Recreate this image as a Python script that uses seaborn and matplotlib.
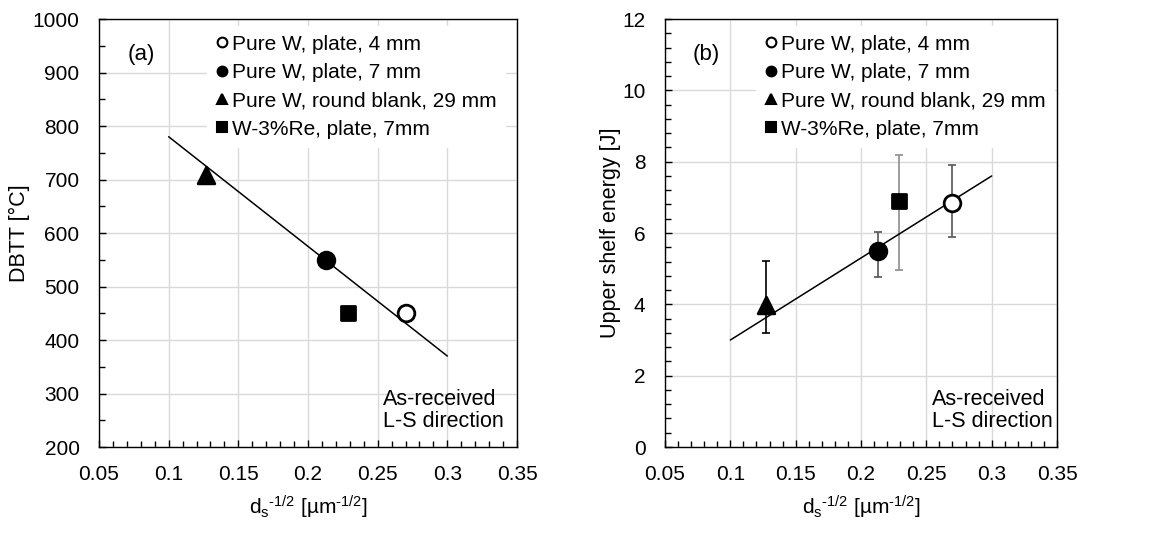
import matplotlib
matplotlib.use("Agg")
import matplotlib.pyplot as plt
from matplotlib.lines import Line2D
from matplotlib.ticker import MultipleLocator
import seaborn as sns
import pandas as pd

# data
labels = ["Pure W, plate, 4 mm", "Pure W, plate, 7 mm",
          "Pure W, round blank, 29 mm", "W-3%Re, plate, 7mm"]
ds = [0.270, 0.213, 0.127, 0.229]
dbtt = [450, 550, 709, 450]
use = [6.84, 5.49, 3.98, 6.90]
use_lo = [5.89, 4.76, 3.21, 4.97]
use_hi = [7.90, 6.03, 5.22, 8.20]
fit_x = [0.1, 0.3]
fit_dbtt = [780, 370]
fit_use = [3.0, 7.6]

markers = ["o", "o", "^", "s"]
faces = ["white", "black", "black", "black"]
msizes = [12, 12, 12, 10]
err_colors = ["#555555", "#555555", "black", "#8c8c8c"]

df = pd.DataFrame({"label": labels, "ds": ds, "dbtt": dbtt, "use": use,
                   "lo": use_lo, "hi": use_hi})

sns.set_style("white")
plt.rcParams["font.family"] = ["Liberation Sans", "DejaVu Sans"]
plt.rcParams["mathtext.fontset"] = "custom"
plt.rcParams["mathtext.rm"] = "Liberation Sans"
plt.rcParams["mathtext.it"] = "Liberation Sans"
plt.rcParams["axes.unicode_minus"] = False
plt.rcParams["text.color"] = "black"
plt.rcParams["axes.labelcolor"] = "black"

FS = 15

fig = plt.figure(figsize=(11.59, 5.45), dpi=100)
ax1 = fig.add_axes([0.0854, 0.1798, 0.3607, 0.7853])
ax2 = fig.add_axes([0.5738, 0.1798, 0.3382, 0.7853])

xlab = r"d$_\text{s}$$^\text{-1/2}$ [µm$^\text{-1/2}$]"


def style_axes(ax, ylim, ymajor, yminor):
    ax.set_xlim(0.05, 0.35)
    ax.set_ylim(*ylim)
    ax.xaxis.set_major_locator(MultipleLocator(0.05))
    ax.xaxis.set_minor_locator(MultipleLocator(0.01))
    ax.yaxis.set_major_locator(MultipleLocator(ymajor))
    ax.yaxis.set_minor_locator(MultipleLocator(yminor))
    ax.xaxis.set_major_formatter(lambda v, p: f"{v:.2f}".rstrip("0").rstrip("."))
    ax.grid(True, which="major", color="#d9d9d9", linewidth=1.0, zorder=0)
    ax.set_axisbelow(True)
    ax.tick_params(which="both", direction="in", top=False, right=False,
                   bottom=True, left=True, labelsize=FS, colors="black")
    ax.tick_params(axis="x", which="major", pad=13)
    ax.tick_params(axis="y", which="major", pad=14)
    ax.tick_params(which="major", length=5, width=1)
    ax.tick_params(which="minor", length=4, width=1)
    for s in ax.spines.values():
        s.set_color("black")
        s.set_linewidth(1.0)
    ax.set_xlabel(xlab, fontsize=FS)
    ax.xaxis.set_label_coords(0.5, -0.11)


def draw_points(ax, ycol):
    for i, row in df.iterrows():
        sns.scatterplot(x=[row["ds"]], y=[row[ycol]], ax=ax, marker=markers[i],
                        s=msizes[i] ** 2, color=faces[i], edgecolor="black",
                        linewidth=2.0, zorder=5, legend=False)


def add_legend(ax, x0):
    handles = [Line2D([], [], linestyle="none", marker=markers[i], markersize=7,
                      markerfacecolor=faces[i], markeredgecolor="black",
                      markeredgewidth=1.5) for i in range(len(labels))]
    leg = ax.legend(handles, labels, loc="upper left", bbox_to_anchor=(x0, 0.983),
                    fontsize=FS, frameon=True, handlelength=0.6, handletextpad=0.2,
                    labelspacing=0.45, borderpad=0.4, borderaxespad=0.0,
                    labelcolor="black")
    leg.get_frame().set_edgecolor("white")
    leg.get_frame().set_facecolor("white")
    leg.get_frame().set_alpha(1.0)
    leg.set_zorder(3)


# (a) DBTT
style_axes(ax1, (200, 1000), 100, 50)
sns.lineplot(x=fit_x, y=fit_dbtt, ax=ax1, color="black", linewidth=1.1, zorder=4)
draw_points(ax1, "dbtt")
add_legend(ax1, 0.259)
ax1.set_ylabel("DBTT [°C]", fontsize=FS + 0.5)
ax1.yaxis.set_label_coords(-0.165, 0.5)
ax1.text(0.069, 0.918, "(a)", transform=ax1.transAxes, fontsize=16, va="center")
ax1.text(0.679, 0.085, "As-received\nL-S direction", transform=ax1.transAxes,
         fontsize=FS + 0.5, va="center", linespacing=1.1)

# (b) upper shelf energy
style_axes(ax2, (0, 12), 2, 0.4)
sns.lineplot(x=fit_x, y=fit_use, ax=ax2, color="black", linewidth=1.1, zorder=4)
for i, row in df.iterrows():
    ax2.errorbar(row["ds"], row["use"],
                 yerr=[[row["use"] - row["lo"]], [row["hi"] - row["use"]]],
                 fmt="none", ecolor=err_colors[i], elinewidth=1.2, capsize=3,
                 capthick=1.2, zorder=3)
draw_points(ax2, "use")
add_legend(ax2, 0.232)
ax2.set_ylabel("Upper shelf energy [J]", fontsize=FS + 0.5)
ax2.yaxis.set_label_coords(-0.113, 0.5)
ax2.text(0.071, 0.918, "(b)", transform=ax2.transAxes, fontsize=16, va="center")
ax2.text(0.681, 0.085, "As-received\nL-S direction", transform=ax2.transAxes,
         fontsize=FS + 0.5, va="center", linespacing=1.1)

fig.savefig("out.png", dpi=100)
